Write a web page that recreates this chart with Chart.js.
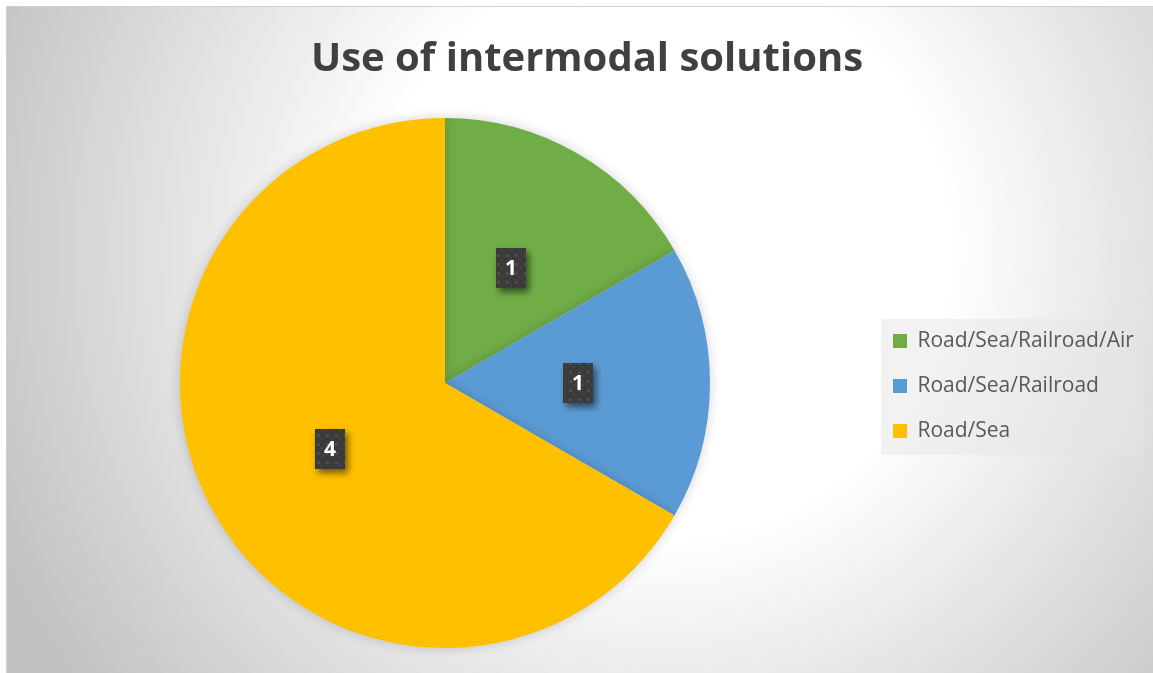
<!DOCTYPE html>
<html>
<head>
<meta charset="utf-8">
<script src="https://cdn.jsdelivr.net/npm/chart.js@4/dist/chart.umd.min.js"></script>
<style>
  html, body { margin: 0; padding: 0; background: #ffffff; }
  #wrap { width: 1153px; height: 673px; position: relative; }
</style>
</head>
<body>
<div id="wrap"><canvas id="c" width="1153" height="673"></canvas></div>
<script>
const categories = ['Road/Sea/Railroad/Air', 'Road/Sea/Railroad', 'Road/Sea'];
const values = [1, 1, 4];
const sliceColors = ['#70AD47', '#5B9BD5', '#FFC000'];
const chartTitle = 'Use of intermodal solutions';

// dark dotted pattern for data label boxes
function makePattern(ctx) {
  const p = document.createElement('canvas');
  p.width = 9; p.height = 9;
  const pc = p.getContext('2d');
  pc.fillStyle = '#3b3b3b';
  pc.fillRect(0, 0, 9, 9);
  pc.fillStyle = '#4d4d4d';
  pc.fillRect(2, 2, 3, 3);
  pc.fillStyle = '#454545';
  pc.fillRect(6, 6, 2, 2);
  return ctx.createPattern(p, 'repeat');
}

const bgPlugin = {
  id: 'bgPlugin',
  beforeLayout(chart) {
    const lg = chart.legend;
    if (lg && !lg._patched) {
      const orig = lg.fit.bind(lg);
      lg.fit = function () { orig(); this.width = 284; };
      lg._patched = true;
    }
  },
  afterLayout(chart) {
    const lg = chart.legend;
    if (lg) { lg.top += 3; lg.bottom += 3; }
  },
  beforeDraw(chart) {
    const ctx = chart.ctx;
    const W = chart.width, H = chart.height;
    ctx.save();
    ctx.fillStyle = '#ffffff';
    ctx.fillRect(0, 0, W, H);
    const g = ctx.createRadialGradient(660, 250, 0, 660, 250, 720);
    g.addColorStop(0, '#ffffff');
    g.addColorStop(0.4, '#ffffff');
    g.addColorStop(1, '#c2c2c2');
    ctx.fillStyle = g;
    ctx.fillRect(7, 7, W - 7, H - 7);
    ctx.strokeStyle = '#d0d0d0';
    ctx.lineWidth = 1;
    ctx.beginPath();
    ctx.moveTo(6.5, H); ctx.lineTo(6.5, 6.5); ctx.lineTo(W, 6.5);
    ctx.stroke();
    // legend background box
    const lg = chart.legend;
    if (lg && lg.legendHitBoxes && lg.legendHitBoxes.length) {
      const hb = lg.legendHitBoxes;
      const top = hb[0].top - 11.5;
      const bottom = hb[hb.length - 1].top + hb[hb.length - 1].height + 13.5;
      const left = lg.left + 12;
      const right = lg.right - 10;
      ctx.fillStyle = 'rgba(230,230,230,0.5)';
      ctx.fillRect(left, top, right - left, bottom - top);
    }
    ctx.restore();
  },
  beforeDatasetsDraw(chart) {
    const ctx = chart.ctx;
    ctx.save();
    ctx.shadowColor = 'rgba(0,0,0,0.18)';
    ctx.shadowBlur = 12;
    ctx.shadowOffsetX = 0;
    ctx.shadowOffsetY = 0;
  },
  afterDatasetsDraw(chart) {
    const ctx = chart.ctx;
    ctx.restore();
    const meta = chart.getDatasetMeta(0);
    const pat = makePattern(ctx);
    meta.data.forEach((arc, i) => {
      const p = arc.getCenterPoint();
      const w = 30, h = 40;
      const x = Math.round(p.x - w / 2), y = Math.round(p.y - h / 2);
      ctx.save();
      ctx.shadowColor = 'rgba(0,0,0,0.55)';
      ctx.shadowBlur = 7;
      ctx.shadowOffsetX = 3;
      ctx.shadowOffsetY = 4;
      ctx.fillStyle = pat;
      ctx.fillRect(x, y, w, h);
      ctx.restore();
      ctx.save();
      ctx.fillStyle = '#ffffff';
      ctx.font = 'bold 21px "Open Sans", sans-serif';
      ctx.textAlign = 'center';
      ctx.textBaseline = 'middle';
      ctx.fillText(String(chart.data.datasets[0].data[i]), x + w / 2, y + h / 2 + 1);
      ctx.restore();
    });
  }
};

new Chart(document.getElementById('c'), {
  type: 'pie',
  data: {
    labels: categories,
    datasets: [{
      data: values,
      backgroundColor: sliceColors,
      borderWidth: 0
    }]
  },
  options: {
    responsive: false,
    animation: false,
    layout: { padding: { left: 21, top: 7, right: 0, bottom: 25 } },
    plugins: {
      tooltip: { enabled: false },
      title: {
        display: true,
        text: chartTitle,
        color: '#404040',
        font: { family: '"Open Sans", sans-serif', size: 40, weight: 'bold', lineHeight: 1.2 },
        padding: { top: 29, bottom: 34 }
      },
      legend: {
        display: true,
        position: 'right',
        align: 'center',
        fullSize: false,
        labels: {
          boxWidth: 14,
          boxHeight: 14,
          padding: 24,
          color: '#595959',
          font: { family: '"Open Sans", sans-serif', size: 21 }
        }
      }
    }
  },
  plugins: [bgPlugin]
});
</script>
</body>
</html>
